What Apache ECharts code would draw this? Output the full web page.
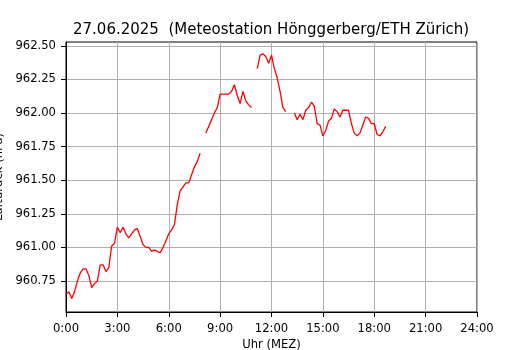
<!DOCTYPE html>
<html>
<head>
<meta charset="utf-8">
<script src="https://cdn.jsdelivr.net/npm/echarts@6/dist/echarts.min.js"></script>
<style>
  html, body { margin: 0; padding: 0; background: #fff; }
  #chart { width: 530px; height: 350px; }
</style>
</head>
<body>
<div id="chart"></div>
<script>
// Messzeitpunkte (Uhr, MEZ) und Luftdruck in hPa, null = Messlücke
const times = [
  "0:00", "0:10", "0:20", "0:30", "0:40", "0:50",
  "1:00", "1:10", "1:20", "1:30", "1:40", "1:50",
  "2:00", "2:10", "2:20", "2:30", "2:40", "2:50",
  "3:00", "3:10", "3:20", "3:30", "3:40", "3:50",
  "4:00", "4:10", "4:20", "4:30", "4:40", "4:50",
  "5:00", "5:10", "5:20", "5:30", "5:40", "5:50",
  "6:00", "6:10", "6:20", "6:30", "6:40", "6:50",
  "7:00", "7:10", "7:20", "7:30", "7:40", "7:50",
  "8:00", "8:10", "8:20", "8:30", "8:40", "8:50",
  "9:00", "9:10", "9:20", "9:30", "9:40", "9:50",
  "10:00", "10:10", "10:20", "10:30", "10:40", "10:50",
  "11:00", "11:10", "11:20", "11:30", "11:40", "11:50",
  "12:00", "12:10", "12:20", "12:30", "12:40", "12:50",
  "13:00", "13:10", "13:20", "13:30", "13:40", "13:50",
  "14:00", "14:10", "14:20", "14:30", "14:40", "14:50",
  "15:00", "15:10", "15:20", "15:30", "15:40", "15:50",
  "16:00", "16:10", "16:20", "16:30", "16:40", "16:50",
  "17:00", "17:10", "17:20", "17:30", "17:40", "17:50",
  "18:00", "18:10", "18:20", "18:30", "18:40"
];
const pressure = [
  960.65, 960.67, 960.62, 960.67, 960.75, 960.81,
  960.84, 960.84, 960.79, 960.70, 960.73, 960.75,
  960.87, 960.87, 960.82, 960.85, 961.01, 961.03,
  961.15, 961.11, 961.15, 961.10, 961.07, 961.10,
  961.13, 961.14, 961.08, 961.02, 961.00, 961.00,
  960.97, 960.98, 960.97, 960.96, 961.00, 961.05,
  961.10, 961.13, 961.17, 961.32, 961.42, 961.45,
  961.48, 961.48, 961.54, 961.60, 961.64, 961.70,
  null, 961.85, 961.90, 961.95, 962.00, 962.04,
  962.14, 962.14, 962.14, 962.14, 962.16, 962.21,
  962.13, 962.07, 962.16, 962.09, 962.06, 962.04,
  null, 962.33, 962.43, 962.44, 962.42, 962.37,
  962.43, 962.33, 962.26, 962.16, 962.04, 962.01,
  null, null, 962.00, 961.95, 961.99, 961.95,
  962.02, 962.04, 962.08, 962.05, 961.92, 961.91,
  961.83, 961.87, 961.94, 961.96, 962.03, 962.01,
  961.97, 962.02, 962.02, 962.02, 961.92, 961.85,
  961.83, 961.85, 961.91, 961.97, 961.96, 961.92,
  961.92, 961.84, 961.83, 961.86, 961.90
];
const xTicks = [0, 3, 6, 9, 12, 15, 18, 21, 24];
const yTicks = [960.75, 961.00, 961.25, 961.50, 961.75, 962.00, 962.25, 962.50];

const toHours = (t) => {
  const [h, m] = t.split(":").map(Number);
  return h + m / 60;
};

const seriesData = times.map((t, i) => [toHours(t), pressure[i]]);

const font = "DejaVu Sans";
const chart = echarts.init(document.getElementById("chart"), null, { renderer: "canvas" });

const option = {
  animation: false,
  backgroundColor: "#ffffff",
  title: {
    text: "27.06.2025  (Meteostation Hönggerberg/ETH Zürich)",
    left: 73,
    top: 23,
    padding: 0,
    textStyle: { fontFamily: font, fontSize: 15, fontWeight: "normal", color: "#000" },
  },
  grid: {
    left: 66,
    right: 53,
    top: 42,
    bottom: 38,
    containLabel: false,
    outerBoundsMode: "none",
    show: true,
    borderColor: "#000",
    borderWidth: 1,
    backgroundColor: "transparent",
  },
  xAxis: {
    type: "value",
    min: 0,
    max: 24,
    interval: 3,
    name: "Uhr (MEZ)",
    nameLocation: "middle",
    nameGap: 21,
    nameTextStyle: { fontFamily: font, fontSize: 11.6, color: "#000" },
    axisLine: { lineStyle: { color: "#000", width: 1 } },
    axisTick: { show: true, inside: false, length: 5, lineStyle: { color: "#000" }, customValues: xTicks },
    axisLabel: {
      fontFamily: font, fontSize: 11.6, color: "#000", margin: 10.5,
      customValues: xTicks,
      formatter: (v) => v + ":00",
    },
    splitLine: { show: true, lineStyle: { color: "#b0b0b0", width: 1 } },
  },
  yAxis: {
    type: "value",
    min: 960.519,
    max: 962.528,
    name: "Luftdruck (hPa)",
    nameLocation: "middle",
    nameRotate: 90,
    nameGap: 54,
    nameTextStyle: { fontFamily: font, fontSize: 11.6, color: "#000" },
    axisLine: { show: true, lineStyle: { color: "#000", width: 1 } },
    axisTick: { show: true, inside: false, length: 5, lineStyle: { color: "#000" }, customValues: yTicks },
    axisLabel: {
      fontFamily: font, fontSize: 11.6, color: "#000", margin: 10,
      customValues: yTicks,
      formatter: (v) => v.toFixed(2),
    },
    splitLine: { show: true, lineStyle: { color: "#b0b0b0", width: 1 } },
  },
  series: [
    {
      type: "line",
      data: seriesData,
      showSymbol: false,
      connectNulls: false,
      lineStyle: { color: "#ff0000", width: 1.3 },
      itemStyle: { color: "#ff0000" },
    },
  ],
};

chart.setOption(option);
</script>
</body>
</html>
